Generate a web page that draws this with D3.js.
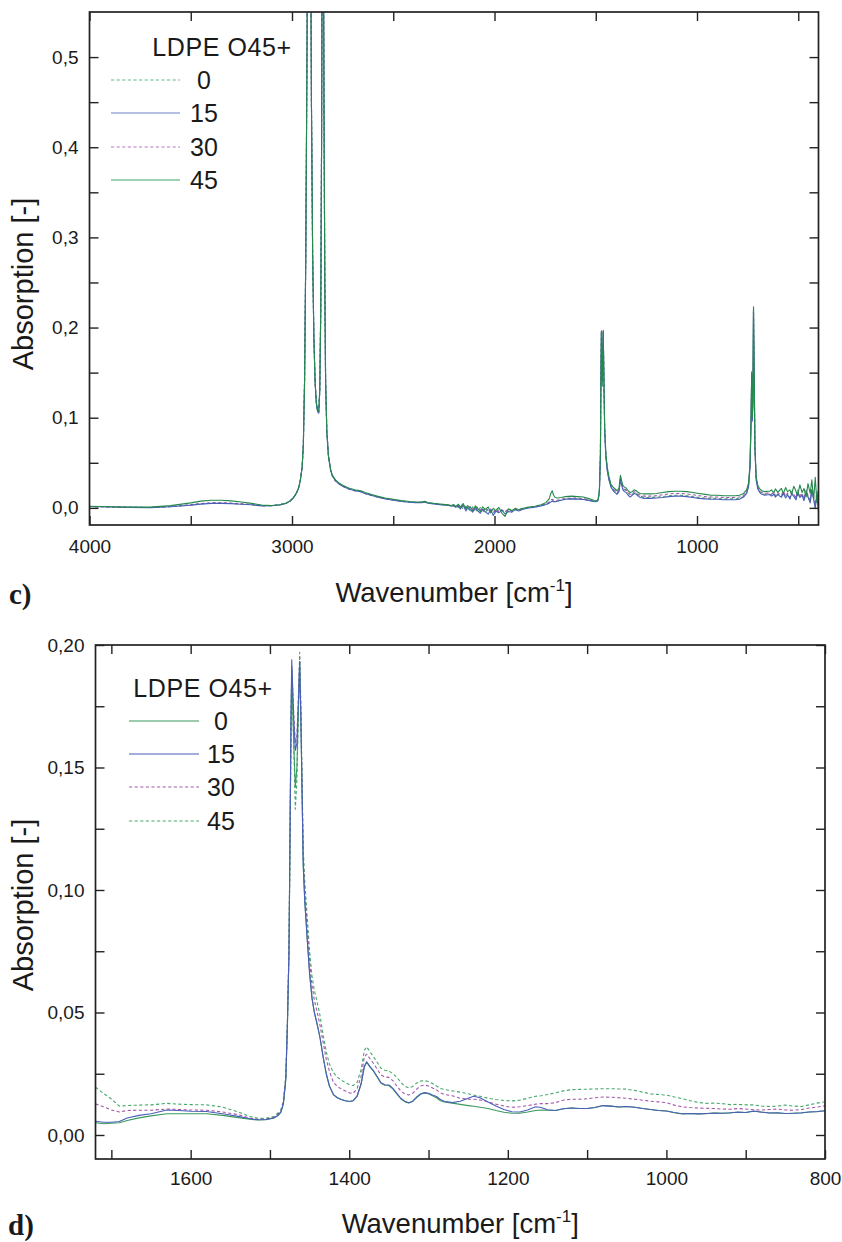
<!DOCTYPE html>
<html><head><meta charset="utf-8">
<script src="https://cdn.jsdelivr.net/npm/d3@7"></script>
<style>
body{margin:0;background:#fff}
svg{display:block}
</style>
</head><body>
<svg id="chart" width="842" height="1242"></svg>
<script>
// ---------------- Panel c data (full spectrum) ----------------
const wnC = [
 4000,3900,3800,3700,3600,3500,3450,3400,3350,3300,3250,3200,3150,3100,3060,3030,
 3010,2995,2985,2975,2965,2958,2950,2944,2938,2932,2926,2920,2916,2910,2904,2898,2892,2886,2880,2874,2868,2863,2858,2854,2850,2846,2842,2838,2834,2828,2820,2810,2800,
 2785,2770,2750,2720,2690,2660,2640,2610,2580,2540,2500,2460,2420,2390,2360,2345,2330,2300,2270,2240,
 2225,2214,2201,2192,2178,2169,2155,2141,2133,2119,2108,2094,2083,2070,2058,2047,2031,2019,2006,1994,1979,1963,1948,1931,1915,1898,1880,1865,
 1840,1800,1770,1745,1730,1722,1715,1708,1700,1690,1670,1650,1620,1590,1560,1530,1505,1495,
 1488,1482,1477,1474,1472,1470,1468,1466,1463,1460,1456,1450,1443,1435,1425,1410,1395,1385,1378,1372,1366,1358,1350,1340,1330,1320,1310,1300,1290,1280,
 1260,1230,1200,1170,1140,1110,1080,1050,1020,990,960,930,900,870,840,810,790,770,755,745,738,733,730,727,724,721,718,714,708,700,690,680,665,650,
 640,632,621,613,601,594,583,574,562,553,541,533,522,511,503,492,481,472,461,452,441,433,424,416,408,400
];
const c45 = [
 .0018,.0012,.0008,.0008,.0025,.0055,.0075,.0085,.0085,.0078,.0065,.0050,.0030,.0026,.0035,.0052,
 .0075,.011,.014,.018,.024,.032,.045,.07,.14,.28,.5,.8,.9,.75,.45,.28,.19,.14,.118,.109,.107,.13,.22,.40,.70,.72,.45,.25,.14,.085,.058,.043,.036,
 .031,.028,.025,.022,.020,.019,.017,.015,.013,.011,.0095,.008,.007,.0065,.0065,.0072,.006,.005,.0043,.0036,
 .0030,.0026,.0036,.0015,.0040,.0008,.0048,-.0012,.0025,.0005,-.0030,.0022,-.0008,-.0042,.0012,-.0020,.0010,-.0055,-.0005,-.0030,.0004,-.0060,-.0095,-.0010,-.0035,-.0005,-.0020,-.0008,
 .0005,.0018,.0035,.0060,.0100,.0160,.0190,.0140,.0115,.0110,.0115,.0125,.0130,.0125,.0120,.0100,.0078,.0078,
 .010,.020,.060,.160,.196,.150,.135,.160,.197,.150,.090,.060,.045,.035,.026,.022,.019,.022,.036,.030,.025,.023,.022,.019,.017,.018,.020,.019,.017,.016,
 .0155,.0155,.016,.017,.018,.0185,.0185,.018,.017,.016,.015,.014,.014,.0135,.0135,.0135,.014,.016,.020,.028,.050,.100,.151,.100,.120,.223,.160,.070,.035,.025,.021,.019,.018,.0185,
 .0185,.0200,.0165,.0210,.0175,.0190,.0215,.0160,.0225,.0180,.0200,.0150,.0240,.0185,.0135,.0255,.0170,.0215,.0120,.0270,.0160,.0310,.0090,.0340,.0060,.0200
];
const c30 = [
 .0016,.0010,.0006,.0004,.0015,.0035,.0048,.0055,.0056,.0052,.0045,.0038,.0025,.0024,.0034,.0051,
 .0074,.011,.014,.018,.024,.032,.045,.07,.14,.28,.5,.8,.9,.75,.45,.28,.19,.14,.117,.108,.106,.13,.22,.40,.70,.72,.45,.25,.14,.085,.058,.043,.035,
 .030,.027,.024,.021,.019,.018,.016,.014,.0125,.0105,.009,.0075,.0066,.0062,.0062,.0068,.0057,.0047,.0040,.0033,
 .0030,.0022,.0028,.0012,.0030,-.0004,.0020,.0006,-.0025,.0015,-.0010,-.0035,.0010,-.0020,-.0048,.0002,-.0030,-.0012,-.0058,-.0010,-.0040,-.0022,-.0050,-.0015,-.0038,-.0012,-.0022,-.0010,
 .0000,.0012,.0028,.0045,.0065,.0085,.0095,.0085,.0080,.0085,.0095,.0105,.0110,.0108,.0102,.0088,.0072,.0074,
 .009,.019,.058,.158,.195,.155,.140,.162,.196,.148,.088,.058,.043,.033,.025,.020,.017,.020,.034,.028,.023,.021,.020,.017,.015,.016,.018,.017,.015,.014,
 .013,.013,.0135,.0145,.0155,.016,.016,.0155,.0145,.0135,.0125,.012,.012,.0115,.0115,.0115,.012,.014,.018,.026,.048,.098,.149,.098,.118,.221,.158,.068,.033,.023,.019,.017,.016,.0165,
 .0160,.0150,.0175,.0135,.0170,.0155,.0140,.0185,.0130,.0165,.0115,.0180,.0150,.0110,.0195,.0135,.0160,.0100,.0200,.0140,.0080,.0215,.0120,.0030,.0180,-.0020
];
const c0 = [
 .0016,.0010,.0006,.0004,.0014,.0032,.0045,.0052,.0053,.0050,.0043,.0036,.0024,.0024,.0034,.0051,
 .0073,.011,.014,.018,.024,.032,.045,.07,.14,.28,.5,.8,.9,.75,.45,.28,.19,.14,.117,.108,.106,.13,.22,.40,.70,.72,.45,.25,.14,.085,.058,.043,.035,
 .030,.027,.024,.021,.019,.018,.016,.014,.0122,.0103,.0088,.0073,.0064,.0060,.0060,.0066,.0055,.0045,.0038,.0032,
 .0028,.0024,.0018,.0030,.0004,.0026,-.0015,.0020,-.0005,-.0032,.0012,-.0018,-.0040,.0004,-.0025,-.0055,-.0008,-.0035,-.0020,-.0065,-.0012,-.0030,-.0045,-.0008,-.0030,-.0018,-.0026,-.0012,
 .0000,.0010,.0025,.0040,.0055,.0070,.0078,.0072,.0070,.0078,.0088,.0098,.0103,.0100,.0095,.0083,.0070,.0072,
 .009,.019,.057,.157,.195,.155,.142,.163,.196,.147,.087,.057,.042,.032,.024,.019,.016,.019,.033,.027,.022,.020,.019,.016,.014,.015,.017,.016,.014,.013,
 .0115,.0115,.012,.0125,.0135,.014,.014,.0135,.0125,.0115,.011,.0105,.0105,.010,.010,.010,.0105,.0125,.0165,.0245,.047,.097,.148,.097,.117,.220,.157,.067,.032,.022,.018,.016,.015,.0155,
 .0150,.0140,.0160,.0125,.0155,.0145,.0130,.0170,.0120,.0150,.0105,.0165,.0140,.0100,.0180,.0125,.0150,.0090,.0185,.0130,.0070,.0200,.0110,.0010,.0165,-.0030
];
const c15 = [
 .0015,.0009,.0005,.0003,.0012,.0030,.0042,.0050,.0050,.0047,.0040,.0034,.0022,.0023,.0033,.0050,
 .0073,.0105,.0135,.0175,.0235,.0315,.045,.07,.14,.28,.5,.8,.9,.75,.45,.28,.19,.14,.116,.107,.105,.13,.22,.40,.70,.72,.45,.25,.14,.084,.057,.042,.035,
 .030,.027,.024,.021,.019,.018,.016,.014,.012,.010,.0085,.007,.0062,.0058,.0058,.0064,.0053,.0043,.0036,.0030,
 .0027,.0018,.0030,.0006,.0022,-.0012,.0030,-.0035,.0008,-.0020,-.0048,.0004,-.0030,-.0060,-.0015,-.0040,-.0070,-.0022,-.0085,-.0035,-.0055,-.0025,-.0068,-.0040,-.0048,-.0020,-.0035,-.0020,
 -.0005,.0008,.0022,.0038,.0052,.0066,.0074,.0068,.0067,.0074,.0085,.0095,.0100,.0097,.0092,.0080,.0068,.0070,
 .0085,.018,.056,.157,.196,.160,.150,.165,.195,.146,.086,.056,.041,.031,.023,.018,.015,.018,.031,.025,.020,.018,.017,.014,.012,.014,.016,.015,.013,.0115,
 .0105,.0105,.011,.0115,.0125,.013,.013,.0125,.0115,.0105,.010,.0095,.0095,.009,.009,.009,.0095,.012,.016,.024,.046,.096,.147,.096,.116,.219,.156,.066,.031,.021,.017,.015,.014,.0145,
 .0145,.0130,.0150,.0120,.0148,.0135,.0118,.0160,.0110,.0142,.0098,.0155,.0128,.0090,.0170,.0115,.0140,.0080,.0175,.0120,.0055,.0190,.0095,-.0010,.0150,-.0040
];

// ---------------- Panel d data (1720-800 cm-1) ----------------
const wnD = [
 1720,1710,1700,1690,1680,1665,1650,1630,1615,1600,1580,1560,1540,1525,1515,1505,1495,
 1490,1486,1483,1480,1478,1476,1474.5,1473.5,1472.5,1470,1468,1466,1464,1462.5,1461,1459.5,1458,1456,1453,1450,1447,1444,1441,1437,1433,1429,1425,1420,1415,1410,1405,1400,1395,
 1390,1385,1381,1378,1374,1370,1365,1360,1355,1350,1345,1340,1335,1330,1325,1320,1315,1310,1305,1300,1295,1290,1285,1280,
 1270,1260,1250,1243,1235,1225,1215,1205,1195,1185,1175,1165,1158,1150,1140,1130,1120,1110,1100,1090,1080,1070,1060,1050,1040,1030,1020,1010,1000,
 990,980,970,960,950,940,930,920,910,900,890,880,870,860,850,840,830,820,810,800
];
const d0 = [
 .0050,.0046,.0048,.0050,.0059,.0070,.0078,.0087,.0087,.0087,.0087,.0080,.0071,.0064,.0061,.0062,.0069,
 .0078,.0093,.0128,.0225,.044,.074,.128,.165,.190,.160,.142,.150,.175,.193,.170,.140,.110,.095,.080,.066,.056,.050,.046,.040,.032,.025,.020,.0165,.0152,.0145,.0140,.0137,.0140,
 .0158,.0208,.0278,.0297,.0278,.0263,.0238,.0211,.0203,.0202,.0188,.0168,.0148,.0136,.0131,.0137,.0153,.0166,.0171,.0168,.0160,.0152,.0140,.0135,
 .0130,.0125,.0120,.0117,.0113,.0108,.0100,.0093,.0089,.0089,.0094,.0100,.0102,.0101,.0100,.0107,.0110,.0108,.0108,.0112,.0120,.0118,.0114,.0116,.0113,.0108,.0104,.0100,.0098,
 .0091,.0086,.0088,.0086,.0087,.0090,.0089,.0091,.0093,.0092,.0097,.0094,.0090,.0090,.0088,.0089,.0090,.0094,.0095,.0099
];
const d15 = [
 .0056,.0052,.0052,.0055,.0069,.0080,.0087,.0102,.0100,.0097,.0096,.0087,.0076,.0066,.0062,.0063,.0070,
 .0080,.0095,.013,.023,.045,.075,.13,.17,.194,.170,.157,.160,.178,.193,.170,.140,.110,.095,.080,.066,.056,.050,.046,.040,.032,.025,.020,.0165,.0152,.0145,.0140,.0137,.0140,
 .0160,.0210,.0280,.0299,.0280,.0265,.0240,.0213,.0205,.0204,.0190,.0170,.0150,.0138,.0132,.0138,.0155,.0168,.0173,.0170,.0163,.0157,.0145,.0138,
 .0132,.0138,.0150,.0158,.0152,.0135,.0118,.0104,.0095,.0094,.0102,.0115,.0112,.0103,.0100,.0107,.0110,.0108,.0108,.0112,.0120,.0118,.0114,.0116,.0113,.0108,.0104,.0100,.0098,
 .0092,.0087,.0088,.0086,.0088,.0090,.0089,.0090,.0094,.0092,.0098,.0093,.0090,.0091,.0088,.0089,.0091,.0094,.0096,.0099
];
const d30 = [
 .0127,.0115,.0102,.0094,.0100,.0101,.0101,.0106,.0104,.0102,.0101,.0094,.0083,.0068,.0064,.0065,.0072,
 .0085,.0100,.0135,.0235,.045,.075,.128,.168,.191,.172,.160,.163,.180,.195,.172,.142,.113,.099,.085,.071,.061,.055,.051,.045,.038,.031,.026,.0215,.0198,.0188,.0180,.0172,.0170,
 .0190,.0240,.0318,.0330,.0312,.0295,.0270,.0245,.0237,.0235,.0222,.0200,.0180,.0168,.0163,.0170,.0187,.0200,.0204,.0200,.0192,.0184,.0172,.0165,
 .0160,.0150,.0146,.0146,.0143,.0135,.0126,.0118,.0113,.0115,.0120,.0126,.0128,.0128,.0132,.0142,.0146,.0146,.0148,.0152,.0155,.0154,.0152,.0150,.0146,.0142,.0138,.0135,.0132,
 .0122,.0115,.0112,.0110,.0109,.0108,.0106,.0105,.0108,.0106,.0103,.0102,.0104,.0106,.0102,.0101,.0104,.0110,.0114,.0119
];
const d45 = [
 .0195,.0170,.0147,.0118,.0120,.0122,.0123,.0129,.0126,.0124,.0123,.0114,.0094,.0075,.0068,.0068,.0075,
 .0090,.0105,.014,.024,.046,.076,.125,.163,.186,.160,.133,.145,.175,.197,.176,.146,.117,.103,.089,.075,.065,.059,.055,.049,.041,.034,.029,.0255,.0236,.0224,.0214,.0206,.0202,
 .0215,.0268,.0345,.0360,.0340,.0322,.0298,.0272,.0264,.0262,.0250,.0236,.0215,.0200,.0192,.0198,.0212,.0220,.0222,.0218,.0210,.0200,.0190,.0186,
 .0180,.0175,.0168,.0163,.0158,.0150,.0145,.0141,.0139,.0142,.0150,.0158,.0160,.0165,.0172,.0180,.0185,.0186,.0187,.0188,.0189,.0189,.0188,.0187,.0182,.0175,.0168,.0165,.0163,
 .0155,.0148,.0140,.0133,.0129,.0130,.0128,.0124,.0125,.0123,.0123,.0118,.0116,.0118,.0122,.0118,.0116,.0123,.0130,.0136
];

// ---------------- ticks / labels ----------------
const legendTitle = "LDPE O45+";
const seriesNames = ["0","15","30","45"];
const xTicksC = [4000,3500,3000,2500,2000,1500,1000,500];
const xMajorC = [4000,3000,2000,1000];
const yTicksC = [0,0.05,0.1,0.15,0.2,0.25,0.3,0.35,0.4,0.45,0.5];
const yMajorC = [0,0.1,0.2,0.3,0.4,0.5];
const xTicksD = [1700,1600,1500,1400,1300,1200,1100,1000,900,800];
const xMajorD = [1600,1400,1200,1000,800];
const yTicksD = [0,0.025,0.05,0.075,0.1,0.125,0.15,0.175,0.2];
const yMajorD = [0,0.05,0.1,0.15,0.2];

const GREEN = "#248a4c", LGREEN = "#45a86a", BLUE = "#4a5fb8", PURPLE = "#a456ac";
const DASH = "3.2,2.4";
const SANS = '"Liberation Sans", Arial, Helvetica, sans-serif';
const SERIF = '"Liberation Serif", "Times New Roman", serif';

const svg = d3.select("#chart");

function drawPanel(cfg) {
  const x = d3.scaleLinear().domain(cfg.xDomain).range([cfg.left, cfg.right]);
  const y = d3.scaleLinear().domain(cfg.yDomain).range([cfg.bottom, cfg.top]);
  const g = svg.append("g").style("font-family", SANS);
  const clipId = "clip" + cfg.id;
  svg.append("defs").append("clipPath").attr("id", clipId)
    .append("rect").attr("x", cfg.left).attr("y", cfg.top)
    .attr("width", cfg.right - cfg.left).attr("height", cfg.bottom - cfg.top);

  const line = d3.line().defined(d => d[1] != null).x(d => x(d[0])).y(d => y(d[1]));
  const lines = g.append("g").attr("clip-path", `url(#${clipId})`);
  cfg.drawOrder.forEach(i => {
    const s = cfg.series[i];
    const pts = cfg.wn.map((w, k) => [w, s.values[k]]);
    lines.append("path").datum(pts).attr("d", line)
      .attr("fill", "none").attr("stroke", s.color).attr("stroke-width", s.width || 1.1)
      .attr("stroke-dasharray", s.dash || null).attr("stroke-linejoin", "round");
  });

  const isMajor = (v, arr) => arr.some(m => Math.abs(m - v) < 1e-9);
  const fmtY = v => isMajor(v, cfg.yMajor) ? d3.format(cfg.yFmt)(v).replace(".", ",") : "";
  const fmtX = v => isMajor(v, cfg.xMajor) ? String(v) : "";

  const styleAxis = sel => {
    sel.select(".domain").remove();
    sel.attr("font-family", null).attr("font-size", null);
    sel.selectAll(".tick line").attr("stroke", "#222").attr("stroke-width", 1.4);
    sel.selectAll(".tick text").style("font-size", "19px").style("font-family", SANS).attr("fill", "#1a1a1a");
  };
  g.append("g").attr("transform", `translate(0,${cfg.bottom})`)
    .call(d3.axisBottom(x).tickValues(cfg.xTicks).tickSizeInner(-9).tickSizeOuter(0).tickPadding(cfg.xPad).tickFormat(fmtX))
    .call(styleAxis);
  g.append("g").attr("transform", `translate(0,${cfg.top})`)
    .call(d3.axisTop(x).tickValues(cfg.xTicks).tickSizeInner(-9).tickSizeOuter(0).tickFormat(""))
    .call(styleAxis);
  g.append("g").attr("transform", `translate(${cfg.left},0)`)
    .call(d3.axisLeft(y).tickValues(cfg.yTicks).tickSizeInner(-9).tickSizeOuter(0).tickPadding(11).tickFormat(fmtY))
    .call(styleAxis);
  g.append("g").attr("transform", `translate(${cfg.right},0)`)
    .call(d3.axisRight(y).tickValues(cfg.yTicks).tickSizeInner(-9).tickSizeOuter(0).tickFormat(""))
    .call(styleAxis);

  g.append("rect").attr("x", cfg.left).attr("y", cfg.top)
    .attr("width", cfg.right - cfg.left).attr("height", cfg.bottom - cfg.top)
    .attr("fill", "none").attr("stroke", "#222").attr("stroke-width", 1.7);

  // axis titles
  g.append("text").attr("transform", `translate(${cfg.yTitleX},${cfg.yTitleY}) rotate(-90)`)
    .attr("text-anchor", "middle").attr("dy", "0.35em").style("font-size", "29px").attr("fill", "#1a1a1a")
    .text("Absorption [-]");
  const xt = g.append("text").attr("x", (cfg.left + cfg.right) / 2).attr("y", cfg.xTitleY)
    .attr("text-anchor", "middle").style("font-size", "27.5px").attr("fill", "#1a1a1a");
  xt.append("tspan").text("Wavenumber [cm");
  xt.append("tspan").style("font-size", "17px").attr("dy", -11).text("-1");
  xt.append("tspan").attr("dy", 11).text("]");

  g.append("text").attr("x", cfg.letterX).attr("y", cfg.xTitleY + 2)
    .style("font-family", SERIF).style("font-weight", "bold").style("font-size", "29px")
    .attr("fill", "#1a1a1a").text(cfg.letter);

  // legend
  const L = cfg.legend;
  g.append("text").attr("x", L.titleX).attr("y", L.titleY).attr("text-anchor", "middle")
    .style("font-size", "25px").attr("letter-spacing", 0.6).attr("fill", "#1a1a1a").text(legendTitle);
  seriesNames.forEach((name, i) => {
    const s = cfg.series[i];
    const yy = L.rows[i];
    g.append("line").attr("x1", L.x0).attr("x2", L.x1).attr("y1", yy).attr("y2", yy)
      .attr("stroke", s.legendColor || s.color).attr("stroke-width", 1.2)
      .attr("stroke-dasharray", s.dash || null);
    g.append("text").attr("x", L.labelX).attr("y", yy + 9).attr("text-anchor", "middle")
      .style("font-size", "25px").attr("fill", "#1a1a1a").text(name);
  });
}

drawPanel({
  id: "c", left: 89.5, right: 818.5, top: 12, bottom: 525,
  xDomain: [4000, 400], yDomain: [-0.019, 0.55],
  xTicks: xTicksC, xMajor: xMajorC, yTicks: yTicksC, yMajor: yMajorC, yFmt: ".1f",
  xPad: 15, xTitleY: 602, yTitleX: 23, yTitleY: 284, letter: "c)", letterX: 9,
  wn: wnC,
  series: [
    { values: c0, color: LGREEN, dash: DASH, legendColor: "#62ba86" },
    { values: c15, color: BLUE, legendColor: "#6a80c8" },
    { values: c30, color: PURPLE, dash: DASH, legendColor: "#b877c0" },
    { values: c45, color: GREEN, legendColor: "#3fa368" }
  ],
  drawOrder: [0, 2, 1, 3],
  legend: { titleX: 222, titleY: 56, x0: 111, x1: 180, labelX: 204, rows: [80, 113, 147, 180] }
});

drawPanel({
  id: "d", left: 95.5, right: 825, top: 645, bottom: 1159,
  xDomain: [1720, 800], yDomain: [-0.0098, 0.2],
  xTicks: xTicksD, xMajor: xMajorD, yTicks: yTicksD, yMajor: yMajorD, yFmt: ".2f",
  xPad: 13, xTitleY: 1233, yTitleX: 23, yTitleY: 905, letter: "d)", letterX: 8,
  wn: wnD,
  series: [
    { values: d0, color: "#3a9a5c" },
    { values: d15, color: BLUE },
    { values: d30, color: PURPLE, dash: DASH },
    { values: d45, color: LGREEN, dash: DASH }
  ],
  drawOrder: [3, 2, 0, 1],
  legend: { titleX: 203, titleY: 697, x0: 129, x1: 199, labelX: 221, rows: [721, 754, 787, 821] }
});
</script>
</body></html>
